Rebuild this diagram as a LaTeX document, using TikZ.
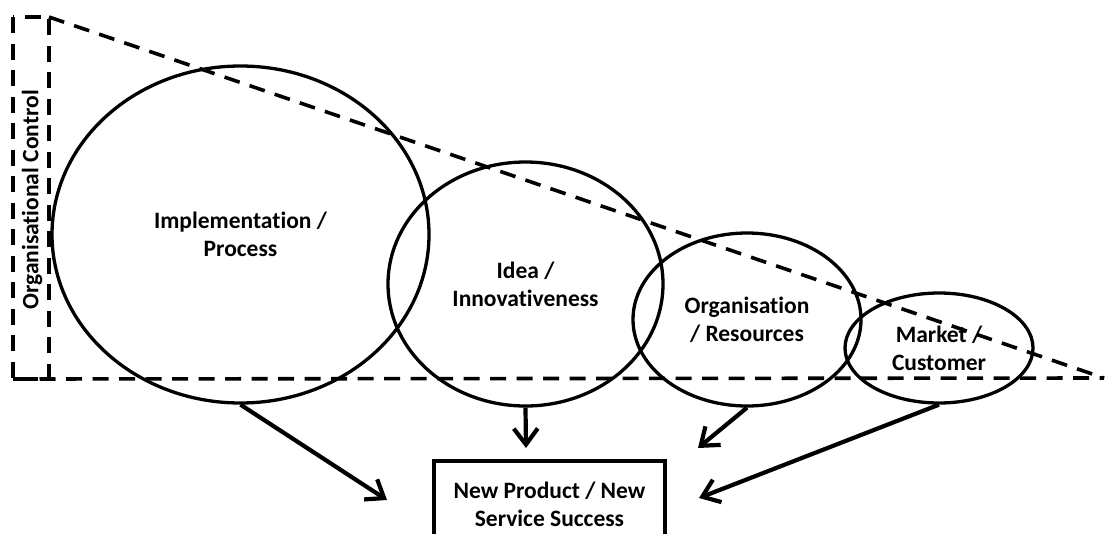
\documentclass[tikz,border=0pt]{standalone}
\usepackage{fontspec}
\setmainfont{Carlito}[RawFeature={-liga}]
\usetikzlibrary{shapes.geometric,arrows.meta}
\tikzset{
  lbl/.style={font=\bfseries\fontsize{23.5}{28}\selectfont, align=center},
  dash3/.style={line width=3.6pt, dash pattern=on 16pt off 10.5pt},
  oval/.style={ellipse, draw, line width=3.3pt, inner sep=0pt, lbl},
  flow/.style={line width=4.2pt, -{Straight Barb[length=16pt,width=24pt,line width=4.2pt]}},
  resultbox/.style={rectangle, draw, line width=3.3pt, lbl, minimum width=231pt, minimum height=86pt}
}
\begin{document}
\begin{tikzpicture}[x=1pt,y=-1pt]
\useasboundingbox (0,0) rectangle (1107,533);
\clip (0,0) rectangle (1107,533);
% dashed control bar and triangle
\coordinate (rtl) at (13,17);
\coordinate (rbr) at (49,379);
\coordinate (ttop) at (49,17);
\coordinate (tapex) at (1104,378);
\coordinate (tbl) at (13,379);
\draw[dash3] (rtl) rectangle (rbr);
\draw[dash3] (ttop) -- (tapex);
\draw[dash3] (tbl) -- (tapex);
\node[lbl, rotate=90] (ctl) at (32,200) {Organisational Control};
% ellipses
\node[oval, minimum width=377pt, minimum height=337pt] (impl) at (240.5,234.5) {Implementation /\\Process};
\node[oval, minimum width=275pt, minimum height=244pt] (idea) at (525.5,284) {Idea /\\Innovativeness};
\node[oval, minimum width=228pt, minimum height=173pt] (org) at (747,319.5) {Organisation\\/ Resources};
\node[oval, minimum width=188pt, minimum height=110pt] (mkt) at (939,348) {Market /\\Customer};
% result box
\node[resultbox] (res) at (549.5,504) {New Product / New\\Service Success};
% arrow tips
\coordinate (t1) at (387,500);
\coordinate (t2) at (526,448);
\coordinate (t3) at (698,448);
\coordinate (t4) at (699,498);
\draw[flow] (impl.south) -- (t1);
\draw[flow] (idea.south) -- (t2);
\draw[flow] (org.south) -- (t3);
\draw[flow] (mkt.south) -- (t4);
\end{tikzpicture}
\end{document}
